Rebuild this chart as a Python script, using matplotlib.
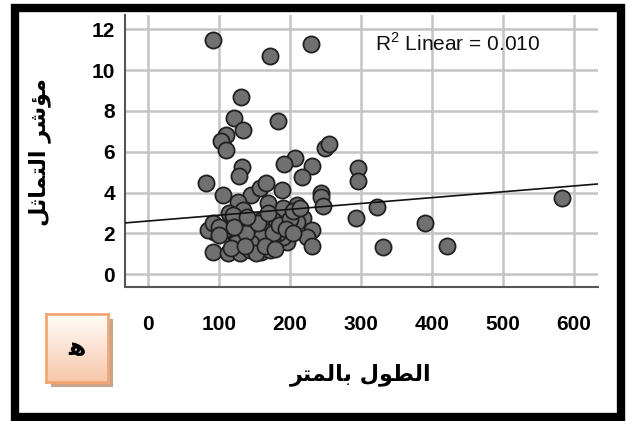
import numpy as np
import matplotlib
matplotlib.use("Agg")
from matplotlib import pyplot as plt
from matplotlib.patches import Rectangle

plt.rcParams["mathtext.fontset"] = "custom"
plt.rcParams["mathtext.rm"] = "Liberation Sans"

# length in metres (x) and similarity index (y)
length_m = [
    92, 230, 173, 131, 121, 183, 134, 111, 103, 111, 250, 256, 207, 192, 232,
    133, 128, 217, 296, 296, 82,
    106, 146, 158, 166, 169, 189, 127, 134, 115, 190, 211, 244, 244, 247,
    323, 293, 390, 332, 421, 584, 213, 209,
    219, 210, 232, 224, 232, 196, 190, 183, 176,
    160, 146, 130, 120, 111, 94, 85, 92, 125, 148, 167, 175, 92, 113, 130,
    144, 160, 172, 108, 125, 146, 160, 176, 146, 153,
    100, 138, 155, 185, 200, 205, 118, 137, 165, 180, 100, 140, 170, 195,
    205, 122, 215,
]
similarity = [
    11.5, 11.3, 10.7, 8.7, 7.65, 7.5, 7.06, 6.8, 6.55, 6.1, 6.2, 6.4, 5.7, 5.4, 5.3,
    5.25, 4.8, 4.75, 5.2, 4.57, 4.45,
    3.87, 3.9, 4.2, 4.45, 3.5, 4.1, 3.55, 3.15, 3.0, 3.25, 3.4, 4.0, 3.8, 3.35,
    3.3, 2.74, 2.5, 1.33, 1.37, 3.75, 3.2, 2.8,
    2.75, 2.55, 2.15, 1.8, 1.37, 1.55, 1.8, 2.0, 2.65,
    2.65, 2.4, 2.65, 2.9, 2.15, 2.05, 2.15, 2.5, 1.67, 1.67, 2.05, 1.75, 1.08, 1.03, 1.03,
    1.18, 1.08, 1.18, 2.15, 1.5, 2.3, 1.8, 2.0, 1.5, 1.03,
    2.3, 2.0, 2.5, 2.4, 2.7, 3.1, 1.3, 1.4, 1.4, 1.25, 1.9, 2.8, 3.0, 2.2,
    2.0, 2.3, 3.25,
]

# linear fit shown in the chart
fit_intercept = 2.6
fit_slope = 0.00287
r2_text = r"R$^{2}$ Linear = 0.010"

x_ticks = [0, 100, 200, 300, 400, 500, 600]
y_ticks = [0, 2, 4, 6, 8, 10, 12]

# Arabic labels, written in shaped presentation forms (visual order)
x_title = "\uFEAE\uFE98\uFEE4\uFEDF\uFE8E\uFE91 \uFEDD\uFEEE\uFEC4\uFEDF\uFE8D"   # الطول بالمتر
y_title = "\uFEDE\uFE9B\uFE8E\uFEE4\uFE98\uFEDF\uFE8D \uFEAE\uFEB7\uFE86\uFEE3"   # مؤشر التماثل
panel_letter = "\uFEEB"   # ه

fig = plt.figure(figsize=(6.34, 4.21), dpi=100)
ax = fig.add_axes([0.197, 0.318, 0.746, 0.646])

ax.set_xlim(-32, 634)
ax.set_ylim(-0.64, 12.7)
ax.set_xticks(x_ticks)
ax.set_yticks(y_ticks)
ax.grid(True, color="#c4c4c4", linewidth=1.8)
ax.set_axisbelow(True)

ax.scatter(length_m, similarity, s=135, facecolor="#707070",
           edgecolor="#202020", linewidth=1.3, zorder=3)

xs = np.array(ax.get_xlim())
ax.plot(xs, fit_intercept + fit_slope * xs, color="#111111", linewidth=1.2, zorder=4)

ax.text(320, 11.3, r2_text, fontsize=15, family="Liberation Sans",
        va="center", ha="left", color="#111111", zorder=5)

for side in ["top", "right"]:
    ax.spines[side].set_visible(False)
for side in ["left", "bottom"]:
    ax.spines[side].set_color("#555555")
    ax.spines[side].set_linewidth(1.5)

ax.tick_params(length=0, labelsize=15)
ax.tick_params(axis="x", pad=20)
ax.tick_params(axis="y", pad=7)
for lab in ax.get_xticklabels() + ax.get_yticklabels():
    lab.set_family("Liberation Sans")
    lab.set_fontweight("bold")

fig.text(361 / 634, 1 - 375 / 421, x_title, fontsize=16, fontweight="bold",
         family="DejaVu Sans", ha="center", va="center")
fig.text(40 / 634, 1 - 152 / 421, y_title, fontsize=16, fontweight="bold",
         family="DejaVu Sans", ha="center", va="center", rotation=90)

# panel letter box with shadow and gradient
shadow = fig.add_axes([51 / 634, 1 - 387 / 421, 62 / 634, 68 / 421])
shadow.set_facecolor("#c9a38c")
shadow.set_xticks([])
shadow.set_yticks([])
for sp in shadow.spines.values():
    sp.set_visible(False)
shadow.set_zorder(2)

box = fig.add_axes([46 / 634, 1 - 382 / 421, 62 / 634, 68 / 421])
box.set_zorder(3)
grad = np.linspace(0, 1, 100).reshape(-1, 1)
box.imshow(grad, aspect="auto", extent=[0, 1, 0, 1], origin="upper",
           cmap=matplotlib.colors.LinearSegmentedColormap.from_list(
               "peach", ["#fffdfb", "#f7c7aa"]))
box.set_xticks([])
box.set_yticks([])
for sp in box.spines.values():
    sp.set_color("#f3a673")
    sp.set_linewidth(2)
box.text(0.5, 0.5, panel_letter, fontsize=18, fontweight="bold",
         family="DejaVu Sans", ha="center", va="center", transform=box.transAxes)

# black frame around the figure
fig.patches.append(Rectangle((15 / 634, 1 - 417 / 421), 606 / 634, 409 / 421,
                             transform=fig.transFigure, facecolor="none",
                             edgecolor="black", linewidth=6, zorder=10))

fig.savefig("out.png", dpi=100)
